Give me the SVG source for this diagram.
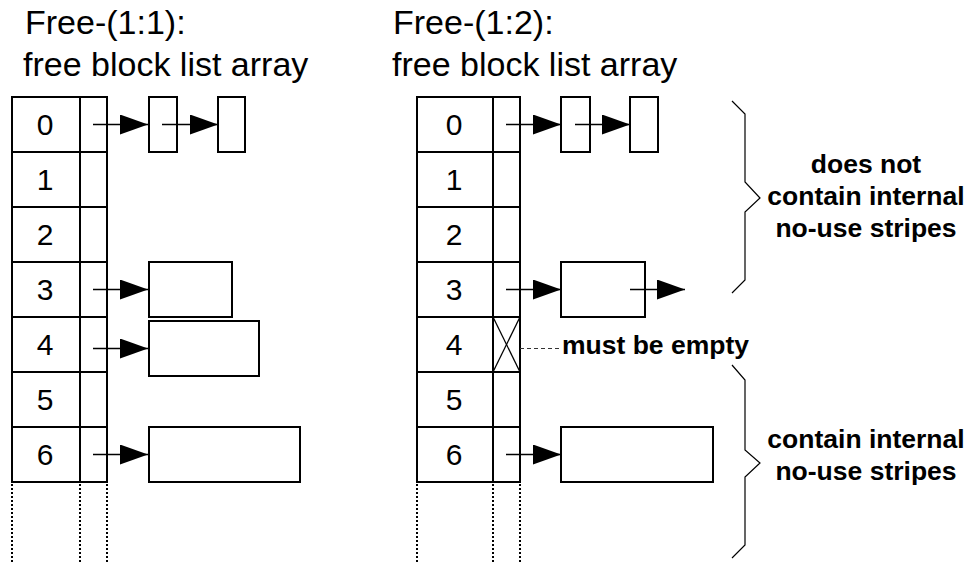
<svg xmlns="http://www.w3.org/2000/svg" width="972" height="564" viewBox="0 0 972 564">
<defs>
<marker id="ah" viewBox="0 0 28 20" refX="28" refY="10" markerWidth="28" markerHeight="20" markerUnits="userSpaceOnUse" orient="auto">
<path d="M0,0 L28,10 L0,20 Z" fill="#000"/>
</marker>
</defs>
<style>
.cell{fill:#fff;stroke:#000;stroke-width:2}
.blk{fill:#fff;stroke:#000;stroke-width:2}
.arr{stroke:#000;stroke-width:1.6;fill:none;marker-end:url(#ah)}
.dot{stroke:#000;stroke-width:2;stroke-dasharray:2,2;fill:none}
.brace{stroke:#000;stroke-width:1.2;fill:none}
.title{font-family:"Liberation Sans",Arial,sans-serif;font-size:34px;fill:#000}
.num{font-family:"Liberation Sans",Arial,sans-serif;font-size:30px;fill:#000;text-anchor:middle}
.note{font-family:"Liberation Sans",Arial,sans-serif;font-size:26.5px;font-weight:bold;fill:#000}
</style>
<rect width="972" height="564" fill="#fff"/>

<g id="title-left">
<text class="title" x="25" y="34">Free-(1:1):</text>
<text class="title" x="23" y="76">free block list array</text>
</g>
<g id="title-right">
<text class="title" x="393" y="34">Free-(1:2):</text>
<text class="title" x="392" y="76">free block list array</text>
</g>

<g id="array-left">
<rect class="cell" x="12" y="97" width="95" height="385"/>
<line class="cell" x1="80" y1="97" x2="80" y2="482"/>
<line class="cell" x1="12" y1="152" x2="107" y2="152"/>
<line class="cell" x1="12" y1="207" x2="107" y2="207"/>
<line class="cell" x1="12" y1="262" x2="107" y2="262"/>
<line class="cell" x1="12" y1="317" x2="107" y2="317"/>
<line class="cell" x1="12" y1="372" x2="107" y2="372"/>
<line class="cell" x1="12" y1="427" x2="107" y2="427"/>
<text class="num" x="45" y="135">0</text>
<text class="num" x="45" y="190">1</text>
<text class="num" x="45" y="245">2</text>
<text class="num" x="45" y="300">3</text>
<text class="num" x="45" y="355">4</text>
<text class="num" x="45" y="410">5</text>
<text class="num" x="45" y="465">6</text>
<line class="dot" x1="12" y1="484" x2="12" y2="564"/>
<line class="dot" x1="80" y1="484" x2="80" y2="564"/>
<line class="dot" x1="107" y1="484" x2="107" y2="564"/>
</g>

<g id="blocks-left">
<rect class="blk" x="149" y="97" width="28" height="55"/>
<rect class="blk" x="218" y="97" width="27" height="55"/>
<rect class="blk" x="149" y="262" width="83" height="55"/>
<rect class="blk" x="149" y="321" width="110" height="55"/>
<rect class="blk" x="149" y="427" width="151" height="55"/>
</g>

<g id="array-right">
<rect class="cell" x="417" y="97" width="103" height="385"/>
<line class="cell" x1="493" y1="97" x2="493" y2="482"/>
<line class="cell" x1="417" y1="152" x2="520" y2="152"/>
<line class="cell" x1="417" y1="207" x2="520" y2="207"/>
<line class="cell" x1="417" y1="262" x2="520" y2="262"/>
<line class="cell" x1="417" y1="317" x2="520" y2="317"/>
<line class="cell" x1="417" y1="372" x2="520" y2="372"/>
<line class="cell" x1="417" y1="427" x2="520" y2="427"/>
<line x1="493" y1="317" x2="520" y2="372" stroke="#000" stroke-width="1.3"/>
<line x1="520" y1="317" x2="493" y2="372" stroke="#000" stroke-width="1.3"/>
<text class="num" x="454" y="135">0</text>
<text class="num" x="454" y="190">1</text>
<text class="num" x="454" y="245">2</text>
<text class="num" x="454" y="300">3</text>
<text class="num" x="454" y="355">4</text>
<text class="num" x="454" y="410">5</text>
<text class="num" x="454" y="465">6</text>
<line class="dot" x1="417" y1="484" x2="417" y2="564"/>
<line class="dot" x1="493" y1="484" x2="493" y2="564"/>
<line class="dot" x1="520" y1="484" x2="520" y2="564"/>
</g>

<g id="blocks-right">
<rect class="blk" x="561" y="97" width="29" height="55"/>
<rect class="blk" x="630" y="97" width="28" height="55"/>
<rect class="blk" x="561" y="262" width="84" height="55"/>
<rect class="blk" x="561" y="427" width="152" height="55"/>
</g>

<g id="connectors">
<line class="arr" x1="93" y1="124.5" x2="148" y2="124.5"/>
<line class="arr" x1="162" y1="124.5" x2="218" y2="124.5"/>
<line class="arr" x1="93" y1="289.5" x2="148" y2="289.5"/>
<line class="arr" x1="93" y1="348.5" x2="148" y2="348.5"/>
<line class="arr" x1="93" y1="454.5" x2="148" y2="454.5"/>
<line class="arr" x1="506" y1="124.5" x2="561" y2="124.5"/>
<line class="arr" x1="575" y1="124.5" x2="630" y2="124.5"/>
<line class="arr" x1="506" y1="289.5" x2="561" y2="289.5"/>
<line class="arr" x1="630" y1="289.5" x2="685" y2="289.5"/>
<line class="arr" x1="506" y1="454.5" x2="561" y2="454.5"/>
<line x1="520" y1="348.5" x2="562" y2="348.5" stroke="#333" stroke-width="1" stroke-dasharray="4,3"/>
</g>

<g id="label-empty">
<text class="note" x="562" y="353.5">must be empty</text>
</g>

<g id="brace-top">
<polyline class="brace" points="732,101 745,114 745,182 760,198 745,212 745,280 732,293"/>
<text class="note" x="866" y="173" text-anchor="middle">does not</text>
<text class="note" x="866" y="205" text-anchor="middle">contain internal</text>
<text class="note" x="866" y="237" text-anchor="middle">no-use stripes</text>
</g>

<g id="brace-bottom">
<polyline class="brace" points="732,365 745,380 745,450 760,463 745,477 745,545 732,558"/>
<text class="note" x="866" y="448" text-anchor="middle">contain internal</text>
<text class="note" x="866" y="480" text-anchor="middle">no-use stripes</text>
</g>
</svg>
